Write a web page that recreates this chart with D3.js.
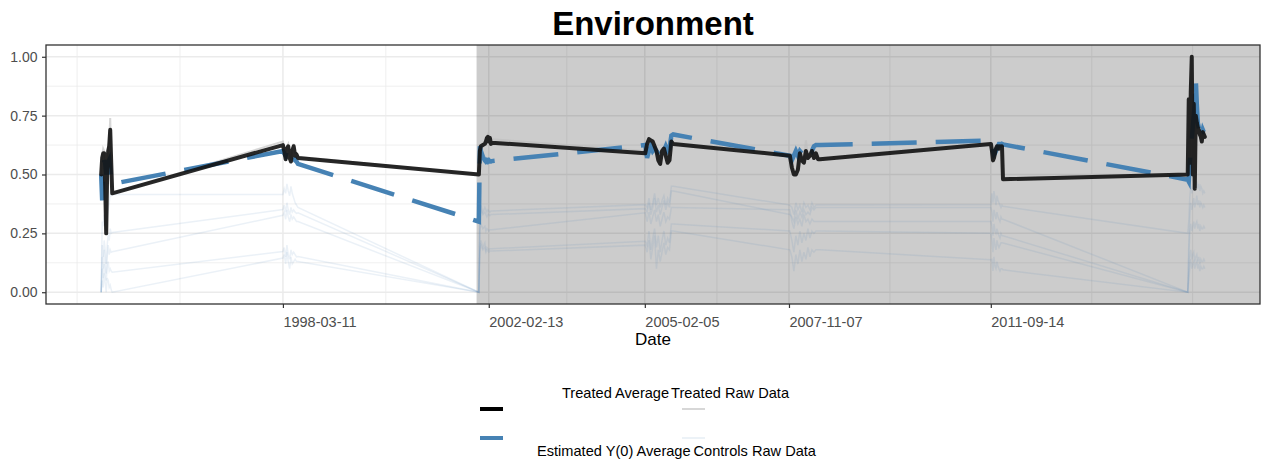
<!DOCTYPE html>
<html>
<head>
<meta charset="utf-8">
<script src="https://cdn.jsdelivr.net/npm/d3@7"></script>
<style>
  body { margin:0; background:#fff; }
  text { font-family: "Liberation Sans", Arial, Helvetica, sans-serif; }
</style>
</head>
<body>
<div id="dataViz"></div>
<script>
/* time points (polls after each election) */
const dates = [
  "1994-09-21","1994-09-28","1994-10-05","1994-10-12","1994-10-19","1994-10-26","1994-11-02","1994-11-09","1994-11-16","1994-11-23","1994-11-30","1994-12-07",
  "1998-03-11","1998-03-20","1998-03-30","1998-04-08","1998-04-17","1998-04-27","1998-05-06","1998-05-15","1998-05-25","1998-06-04","1998-06-14","1998-06-24",
  "2001-12-06","2001-12-13","2001-12-20","2002-01-03","2002-01-17","2002-01-24","2002-01-31","2002-02-07","2002-02-14","2002-02-21","2002-02-28","2002-03-07",
  "2005-02-08","2005-02-21","2005-03-06","2005-03-19","2005-04-01","2005-04-14","2005-04-27","2005-05-10","2005-05-23","2005-06-05","2005-06-18","2005-07-01","2005-07-14","2005-07-27","2005-08-09","2005-08-22",
  "2007-11-13","2007-11-27","2007-12-11","2007-12-25","2008-01-08","2008-01-22","2008-02-05","2008-02-19","2008-03-04","2008-03-18","2008-04-01","2008-04-15","2008-04-29","2008-05-13","2008-05-27","2008-06-10",
  "2011-09-15","2011-09-22","2011-09-29","2011-10-06","2011-10-13","2011-10-20","2011-10-27","2011-11-03","2011-11-10","2011-11-17","2011-11-24","2011-12-01","2011-12-08",
  "2015-06-18","2015-06-25","2015-07-02","2015-07-09","2015-07-16","2015-07-23","2015-07-30","2015-08-06","2015-08-13","2015-08-20","2015-08-27","2015-09-03","2015-09-10","2015-09-17","2015-09-24","2015-10-01","2015-10-08","2015-10-15"
];

const treatedAvg = [
  0.50, 0.57, 0.59, 0.59, 0.45, 0.25, 0.52, 0.60, 0.62, 0.69, 0.55, 0.42,
  0.625, 0.60, 0.565, 0.61, 0.62, 0.57, 0.555, 0.60, 0.62, 0.58, 0.585, 0.57,
  0.50, 0.60, 0.62, 0.625, 0.63, 0.64, 0.655, 0.66, 0.64, 0.655, 0.63, 0.635,
  0.59, 0.63, 0.65, 0.645, 0.64, 0.62, 0.60, 0.56, 0.545, 0.60, 0.61, 0.58, 0.55, 0.56, 0.64, 0.63,
  0.58, 0.53, 0.50, 0.50, 0.52, 0.59, 0.56, 0.55, 0.60, 0.57, 0.58, 0.60, 0.57, 0.59, 0.565, 0.565,
  0.63, 0.60, 0.56, 0.57, 0.59, 0.61, 0.62, 0.62, 0.61, 0.62, 0.61, 0.62, 0.48,
  0.50, 0.82, 0.55, 0.85, 1.00, 0.50, 0.80, 0.44, 0.75, 0.72, 0.70, 0.69, 0.67, 0.66, 0.64, 0.68, 0.67, 0.66
];

const estimatedY0 = [
  0.50, 0.39, 0.50, 0.56, 0.55, 0.50, 0.52, 0.55, 0.56, 0.52, 0.48, 0.46,
  0.60, 0.59, 0.58, 0.60, 0.59, 0.57, 0.58, 0.59, 0.58, 0.56, 0.555, 0.545,
  0.30, 0.62, 0.60, 0.575, 0.56, 0.555, 0.56, 0.555, 0.56, 0.555, 0.555, 0.557,
  0.625, 0.57, 0.60, 0.62, 0.60, 0.61, 0.60, 0.59, 0.58, 0.62, 0.60, 0.62, 0.60, 0.61, 0.665, 0.67,
  0.58, 0.56, 0.58, 0.60, 0.58, 0.60, 0.59, 0.58, 0.60, 0.59, 0.61, 0.60, 0.62, 0.625, 0.625, 0.625,
  0.645, 0.63, 0.60, 0.585, 0.59, 0.60, 0.61, 0.62, 0.63, 0.63, 0.625, 0.63, 0.628,
  0.478, 0.47, 0.55, 0.60, 0.65, 0.70, 0.75, 0.80, 0.905, 0.80, 0.72, 0.70, 0.68, 0.70, 0.67, 0.69, 0.68, 0.68
];

const treatedRaw = [
  0.50, 0.58, 0.61, 0.60, 0.45, 0.26, 0.53, 0.62, 0.64, 0.74, 0.56, 0.42,
  0.64, 0.61, 0.57, 0.62, 0.63, 0.58, 0.56, 0.61, 0.63, 0.59, 0.59, 0.575,
  0.50, 0.61, 0.63, 0.63, 0.64, 0.65, 0.66, 0.67, 0.65, 0.66, 0.645, 0.65,
  0.60, 0.635, 0.655, 0.65, 0.645, 0.625, 0.605, 0.565, 0.55, 0.605, 0.615, 0.585, 0.555, 0.565, 0.645, 0.635,
  0.585, 0.535, 0.505, 0.51, 0.53, 0.60, 0.565, 0.56, 0.645, 0.575, 0.585, 0.61, 0.575, 0.595, 0.57, 0.57,
  0.635, 0.605, 0.565, 0.575, 0.595, 0.615, 0.625, 0.625, 0.615, 0.625, 0.615, 0.625, 0.485,
  0.50, 0.83, 0.56, 0.86, 1.00, 0.51, 0.81, 0.45, 0.76, 0.73, 0.71, 0.70, 0.68, 0.67, 0.65, 0.69, 0.68, 0.67
];

/* control units raw data */
const controlA = [
  0, 0.30, 0.28, 0.33, 0.30, 0.25, 0.32, 0.35, 0.38, 0.42, 0.41, 0.415,
  0.415, 0.44, 0.42, 0.46, 0.43, 0.41, 0.45, 0.42, 0.40, 0.38, 0.37, 0.36,
  0, 0.35, 0.37, 0.34, 0.36, 0.35, 0.34, 0.35, 0.345, 0.34, 0.345, 0.345,
  0.372, 0.36, 0.40, 0.35, 0.38, 0.42, 0.37, 0.40, 0.36, 0.39, 0.41, 0.37, 0.40, 0.38, 0.45, 0.45,
  0.37, 0.36, 0.33, 0.38, 0.35, 0.37, 0.34, 0.38, 0.36, 0.37, 0.35, 0.38, 0.36, 0.37, 0.37, 0.37,
  0.372, 0.42, 0.38, 0.43, 0.40, 0.37, 0.41, 0.39, 0.38, 0.37, 0.36, 0.37, 0.365,
  0.25, 0.30, 0.40, 0.45, 0.42, 0.44, 0.46, 0.43, 0.45, 0.47, 0.44, 0.46, 0.43, 0.45, 0.44, 0.42, 0.43, 0.42
];
const controlB = [
  0, 0.20, 0.15, 0.22, 0.18, 0.12, 0.20, 0.25, 0.22, 0.27, 0.25, 0.254,
  0.351, 0.37, 0.34, 0.38, 0.35, 0.33, 0.36, 0.34, 0.35, 0.34, 0.335, 0.337,
  0, 0.32, 0.35, 0.33, 0.34, 0.33, 0.32, 0.33, 0.33, 0.325, 0.33, 0.33,
  0.355, 0.34, 0.38, 0.33, 0.36, 0.40, 0.34, 0.37, 0.33, 0.36, 0.39, 0.35, 0.38, 0.36, 0.43, 0.43,
  0.33, 0.32, 0.30, 0.35, 0.31, 0.34, 0.32, 0.35, 0.33, 0.34, 0.33, 0.36, 0.35, 0.36, 0.36, 0.36,
  0.36, 0.34, 0.30, 0.35, 0.33, 0.31, 0.34, 0.32, 0.31, 0.30, 0.32, 0.31, 0.31,
  0, 0.20, 0.32, 0.38, 0.35, 0.37, 0.40, 0.36, 0.38, 0.41, 0.37, 0.39, 0.36, 0.38, 0.37, 0.36, 0.37, 0.36
];
const controlC = [
  0, 0.15, 0.10, 0.18, 0.12, 0.08, 0.15, 0.20, 0.16, 0.18, 0.17, 0.172,
  0.327, 0.34, 0.31, 0.35, 0.32, 0.30, 0.33, 0.31, 0.32, 0.31, 0.30, 0.30,
  0, 0.26, 0.29, 0.27, 0.28, 0.26, 0.27, 0.265, 0.26, 0.265, 0.265, 0.265,
  0.337, 0.30, 0.34, 0.29, 0.32, 0.35, 0.30, 0.33, 0.28, 0.31, 0.34, 0.30, 0.32, 0.31, 0.36, 0.36,
  0.35, 0.30, 0.27, 0.32, 0.29, 0.31, 0.28, 0.33, 0.30, 0.31, 0.29, 0.31, 0.30, 0.30, 0.30, 0.30,
  0.30, 0.28, 0.24, 0.29, 0.26, 0.25, 0.27, 0.25, 0.24, 0.23, 0.25, 0.24, 0.24,
  0, 0.15, 0.25, 0.29, 0.26, 0.28, 0.30, 0.27, 0.29, 0.30, 0.27, 0.29, 0.26, 0.28, 0.27, 0.27, 0.28, 0.27
];
const controlD = [
  0, 0.10, 0.06, 0.12, 0.08, 0.05, 0.10, 0.13, 0.09, 0.10, 0.09, 0.085,
  0.173, 0.19, 0.15, 0.20, 0.16, 0.14, 0.18, 0.16, 0.17, 0.16, 0.15, 0.152,
  0, 0.18, 0.22, 0.19, 0.21, 0.18, 0.19, 0.185, 0.18, 0.185, 0.185, 0.185,
  0.216, 0.20, 0.26, 0.18, 0.23, 0.27, 0.19, 0.24, 0.17, 0.22, 0.26, 0.20, 0.23, 0.21, 0.29, 0.29,
  0.26, 0.22, 0.17, 0.24, 0.20, 0.26, 0.21, 0.25, 0.22, 0.27, 0.23, 0.26, 0.25, 0.26, 0.26, 0.26,
  0.25, 0.22, 0.17, 0.23, 0.20, 0.18, 0.22, 0.20, 0.19, 0.20, 0.21, 0.21, 0.209,
  0, 0.08, 0.15, 0.18, 0.14, 0.16, 0.17, 0.13, 0.15, 0.16, 0.13, 0.15, 0.12, 0.14, 0.13, 0.13, 0.14, 0.13
];
const controlE = [
  0, 0.05, 0.02, 0.08, 0.04, 0.00, 0.06, 0.05, 0.02, 0.03, 0.01, 0.0,
  0.145, 0.16, 0.12, 0.17, 0.13, 0.10, 0.15, 0.12, 0.13, 0.14, 0.13, 0.13,
  0, 0.17, 0.20, 0.18, 0.19, 0.17, 0.18, 0.175, 0.17, 0.175, 0.175, 0.175,
  0.20, 0.17, 0.22, 0.14, 0.19, 0.24, 0.10, 0.18, 0.13, 0.17, 0.21, 0.16, 0.19, 0.18, 0.26, 0.26,
  0.18, 0.15, 0.09, 0.16, 0.12, 0.18, 0.13, 0.17, 0.14, 0.19, 0.15, 0.18, 0.17, 0.18, 0.18, 0.18,
  0.138, 0.14, 0.09, 0.15, 0.11, 0.10, 0.13, 0.11, 0.10, 0.09, 0.10, 0.10, 0.095,
  0, 0.05, 0.10, 0.14, 0.10, 0.12, 0.13, 0.10, 0.12, 0.13, 0.10, 0.12, 0.09, 0.11, 0.10, 0.10, 0.11, 0.10
];

/* axis labels */
const tickDates = ["1998-03-11", "2002-02-13", "2005-02-05", "2007-11-07", "2011-09-14"];
const yTicks = [0, 0.25, 0.5, 0.75, 1];
const yMinor = [0.125, 0.375, 0.625, 0.875];
const treatStart = "2001-11-20";

const legendItems = ["Treated Average", "Estimated Y(0) Average", "Treated Raw Data", "Controls Raw Data"];


/* set dimensions and margins of the graph */
const margin = { top:45, left:46 },
      width = 1214, height = 259;

const svg = d3.select("#dataViz")
            .append("svg")
            .attr("width", 1263)
            .attr("height", 466);

const g = svg.append("g")
             .attr("transform", `translate(${margin.left}, ${margin.top})`);

/* scales (ggplot style 5% expansion) */
const parse = d3.timeParse("%Y-%m-%d");
const xDates = dates.map(parse);
const ext = d3.extent(xDates);
const pad = (ext[1] - ext[0]) * 0.05;
const x = d3.scaleTime()
            .domain([new Date(+ext[0] - pad), new Date(+ext[1] + pad)])
            .range([0, width]);
const y = d3.scaleLinear().domain([-0.05, 1.05]).range([height, 0]);

const ticksParsed = tickDates.map(parse);

/* minor breaks: midpoints, extended past first/last break */
let xMinor = [];
for (let i = 1; i < ticksParsed.length; i++) {
    xMinor.push(new Date((+ticksParsed[i-1] + +ticksParsed[i]) / 2));
}
const firstGap = ticksParsed[1] - ticksParsed[0];
const lastGap = ticksParsed[ticksParsed.length-1] - ticksParsed[ticksParsed.length-2];
xMinor.push(new Date(+ticksParsed[0] - firstGap / 2), new Date(+ticksParsed[0] - firstGap));
xMinor.push(new Date(+ticksParsed[ticksParsed.length-1] + lastGap / 2), new Date(+ticksParsed[ticksParsed.length-1] + lastGap));
xMinor = xMinor.filter(d => x(d) > 0 && x(d) < width);

/* grid */
const grid = g.append("g");
grid.selectAll(".hmin").data(yMinor).enter().append("line")
    .attr("x1", 0).attr("x2", width)
    .attr("y1", d => y(d)).attr("y2", d => y(d))
    .style("stroke", "#ebebeb").style("stroke-width", 0.8);
grid.selectAll(".vmin").data(xMinor).enter().append("line")
    .attr("y1", 0).attr("y2", height)
    .attr("x1", d => x(d)).attr("x2", d => x(d))
    .style("stroke", "#ebebeb").style("stroke-width", 0.8);
grid.selectAll(".hmaj").data(yTicks).enter().append("line")
    .attr("x1", 0).attr("x2", width)
    .attr("y1", d => y(d)).attr("y2", d => y(d))
    .style("stroke", "#ebebeb").style("stroke-width", 1.5);
grid.selectAll(".vmaj").data(ticksParsed).enter().append("line")
    .attr("y1", 0).attr("y2", height)
    .attr("x1", d => x(d)).attr("x2", d => x(d))
    .style("stroke", "#ebebeb").style("stroke-width", 1.5);

/* treatment period shading */
g.append("rect")
 .attr("x", x(parse(treatStart)))
 .attr("y", 0)
 .attr("width", width - x(parse(treatStart)))
 .attr("height", height)
 .style("fill", "#000")
 .style("opacity", 0.2);

/* lines */
const line = d3.line()
               .x(d => x(d[0]))
               .y(d => y(d[1]));

const controls = [controlA, controlB, controlC, controlD, controlE];
g.selectAll(".ctrl")
 .data(controls)
 .enter()
 .append("path")
 .attr("d", d => line(d3.zip(xDates, d)))
 .style("fill", "none")
 .style("stroke", "steelblue")
 .style("stroke-opacity", 0.11)
 .style("stroke-width", 1.5);

g.append("path")
 .attr("d", line(d3.zip(xDates, treatedRaw)))
 .style("fill", "none")
 .style("stroke", "#bdbdbd")
 .style("stroke-opacity", 0.6)
 .style("stroke-width", 2);

g.append("path")
 .attr("d", line(d3.zip(xDates, estimatedY0)))
 .style("fill", "none")
 .style("stroke", "steelblue")
 .style("stroke-width", 4.5)
 .style("stroke-dasharray", "45,19");

g.append("path")
 .attr("d", line(d3.zip(xDates, treatedAvg)))
 .style("fill", "none")
 .style("stroke", "#111")
 .style("stroke-opacity", 0.9)
 .style("stroke-width", 4)
 .style("stroke-linejoin", "round")
 .style("stroke-linecap", "round");

/* panel border */
g.append("rect")
 .attr("width", width).attr("height", height)
 .style("fill", "none")
 .style("stroke", "#333")
 .style("stroke-width", 1.3);

/* axes */
const yAxis = g.append("g")
               .call(d3.axisLeft(y).tickValues(yTicks).tickFormat(d3.format(".2f")).tickSize(4).tickPadding(4.5));
yAxis.select(".domain").remove();
yAxis.selectAll("line").style("stroke", "#333").style("stroke-width", 1.2);
yAxis.selectAll("text").style("fill", "#4d4d4d").style("font-size", "14px");

const xAxis = g.append("g")
               .attr("transform", `translate(0, ${height})`)
               .call(d3.axisBottom(x).tickValues(ticksParsed).tickFormat(d3.timeFormat("%Y-%m-%d")).tickSize(4));
xAxis.select(".domain").remove();
xAxis.selectAll("line").style("stroke", "#333").style("stroke-width", 1.2);
xAxis.selectAll("text")
     .attr("y", 23).attr("dy", 0)
     .style("text-anchor", "start")
     .style("fill", "#4d4d4d").style("font-size", "14.5px");

/* titles */
svg.append("text")
   .attr("x", margin.left + width / 2).attr("y", 35)
   .style("text-anchor", "middle")
   .style("font-weight", "bold").style("font-size", "33px")
   .text("Environment");

svg.append("text")
   .attr("x", margin.left + width / 2).attr("y", 345)
   .style("text-anchor", "middle")
   .style("font-size", "17px")
   .text("Date");

/* legend */
const leg = svg.append("g");
leg.append("line").attr("x1", 480).attr("x2", 503).attr("y1", 409).attr("y2", 409)
   .style("stroke", "#000").style("stroke-width", 4);
leg.append("line").attr("x1", 480).attr("x2", 503).attr("y1", 438).attr("y2", 438)
   .style("stroke", "steelblue").style("stroke-width", 4);
leg.append("line").attr("x1", 682).attr("x2", 705).attr("y1", 409).attr("y2", 409)
   .style("stroke", "#bdbdbd").style("stroke-opacity", 0.6).style("stroke-width", 2);
leg.append("line").attr("x1", 682).attr("x2", 705).attr("y1", 438).attr("y2", 438)
   .style("stroke", "steelblue").style("stroke-opacity", 0.1).style("stroke-width", 2);

leg.append("text").attr("x", 562).attr("y", 398).style("font-size", "14.6px").text(legendItems[0]);
leg.append("text").attr("x", 789).attr("y", 398).style("font-size", "14.6px").style("text-anchor", "end").text(legendItems[2]);
leg.append("text").attr("x", 537).attr("y", 456).style("font-size", "14.6px").text(legendItems[1]);
leg.append("text").attr("x", 816).attr("y", 456).style("font-size", "14.6px").style("text-anchor", "end").text(legendItems[3]);
</script>
</body>
</html>
